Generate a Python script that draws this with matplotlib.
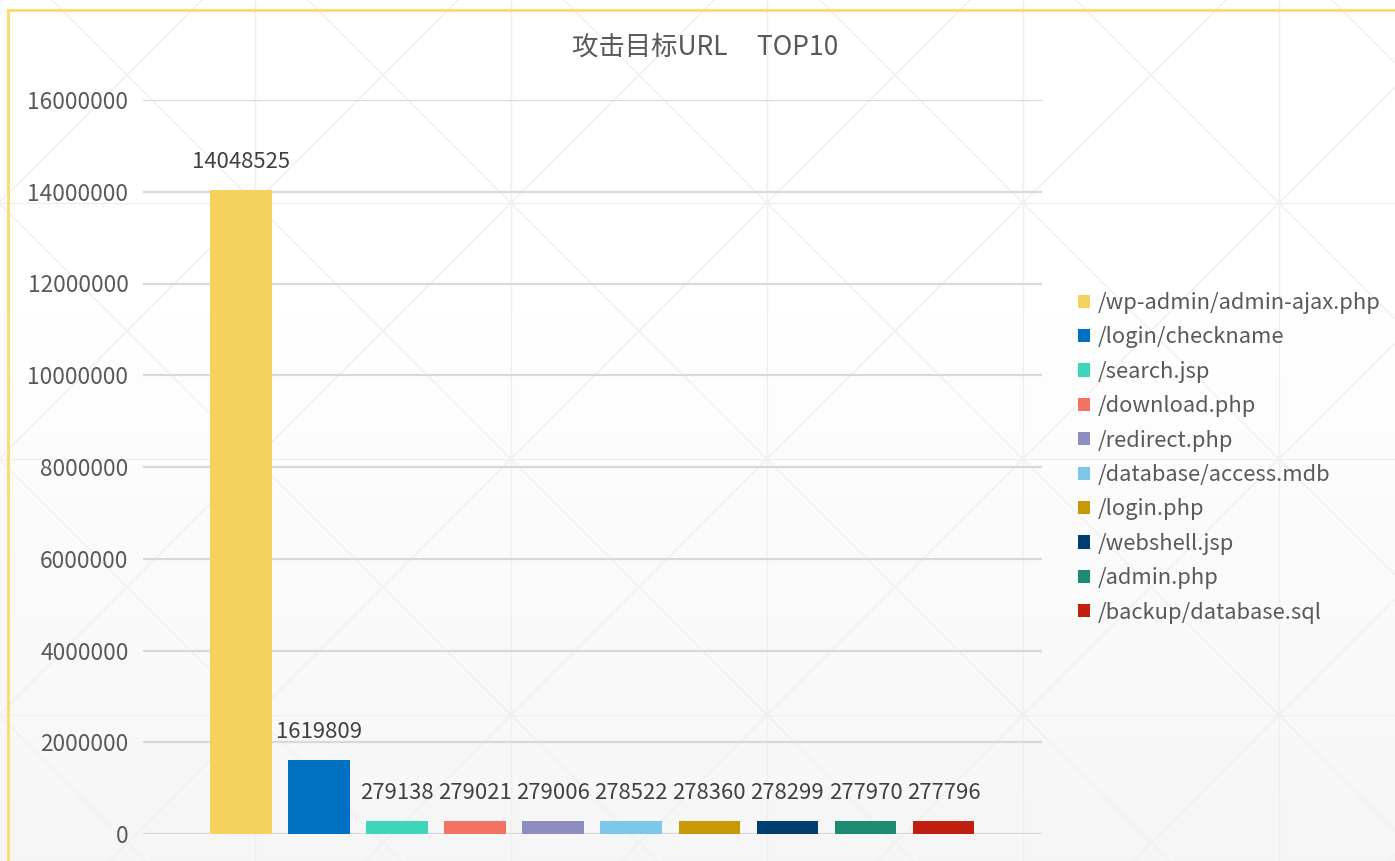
import numpy as np
import matplotlib.pyplot as plt

plt.rcParams['font.family'] = ['Noto Sans CJK SC', 'DejaVu Sans']

urls = ['/wp-admin/admin-ajax.php', '/login/checkname', '/search.jsp',
        '/download.php', '/redirect.php', '/database/access.mdb',
        '/login.php', '/webshell.jsp', '/admin.php', '/backup/database.sql']
hits = [14048525, 1619809, 279138, 279021, 279006,
        278522, 278360, 278299, 277970, 277796]
colors = ['#F5D15E', '#0070C0', '#3ED5BB', '#F27263', '#8E8FC0',
          '#7DC8EA', '#C89807', '#003F71', '#1D8A72', '#C11F10']
yticks = [0, 2000000, 4000000, 6000000, 8000000,
          10000000, 12000000, 14000000, 16000000]

W, H = 1395, 861
fig = plt.figure(figsize=(W / 100, H / 100), dpi=100)

# background: soft vertical gradient plus a faint lattice
bg = fig.add_axes([0, 0, 1, 1], zorder=-10)
rows = np.arange(H)
shade = np.clip(255 - (rows - 250) / (H - 250) * 10, 245, 255) / 255
grad = np.repeat(shade[:, None], 2, axis=1)
bg.imshow(grad, cmap='gray', vmin=0, vmax=1, extent=[0, W, H, 0], aspect='auto')
lc = '#efefef'
step = 256
for gx in np.arange(0, W + step, step) - 1:
    bg.plot([gx, gx], [0, H], color=lc, lw=1)
for gy in np.arange(-53, H + step, step):
    bg.plot([0, W], [gy, gy], color=lc, lw=1)
for k in range(-6, 10):
    x0 = k * step - 1
    bg.plot([x0, x0 + 2000], [-53, -53 + 2000], color=lc, lw=1)
    bg.plot([x0, x0 - 2000], [-53, -53 + 2000], color=lc, lw=1)
bg.plot([8, W], [10, 10], color='#FFD96E', lw=2)
bg.plot([8, 8], [10, H], color='#FFD96E', lw=2)
bg.set_xlim(0, W)
bg.set_ylim(H, 0)
bg.axis('off')

ax = fig.add_axes([143 / W, 27 / H, (1042 - 143) / W, (834 - 100) / H])
ax.set_facecolor('none')
xs = np.arange(len(hits))
bars = ax.bar(xs, hits, width=0.79, color=colors, zorder=3)
for x, v in zip(xs, hits):
    ax.annotate(str(v), (x, v), xytext=(0, 20), textcoords='offset points',
                ha='center', va='center', fontsize=15.9, color='#404040')

ax.set_xlim(-1.2555, 10.261)
ax.set_ylim(0, 16000000)
ax.set_yticks(yticks)
ax.set_yticklabels([str(t) for t in yticks])
ax.set_xticks([])
ax.tick_params(axis='y', length=0, pad=10.5, labelsize=16.3, labelcolor='#595959')
ax.grid(axis='y', color='#d9d9d9', lw=1.6, zorder=0)
for s in ax.spines.values():
    s.set_visible(False)

fig.text(705 / W, 1 - 47 / H, '攻击目标URL     TOP10', ha='center', va='center',
         fontsize=19, color='#595959')

fig.legend(bars.patches, urls, loc='upper left',
           bbox_to_anchor=(1078 / W, 1 - 292 / H), frameon=False,
           fontsize=15.8, labelcolor='#595959', handlelength=0.55,
           handleheight=0.55, handletextpad=0.35, labelspacing=0.565,
           borderpad=0, borderaxespad=0)

fig.savefig('out.png', dpi=100)
